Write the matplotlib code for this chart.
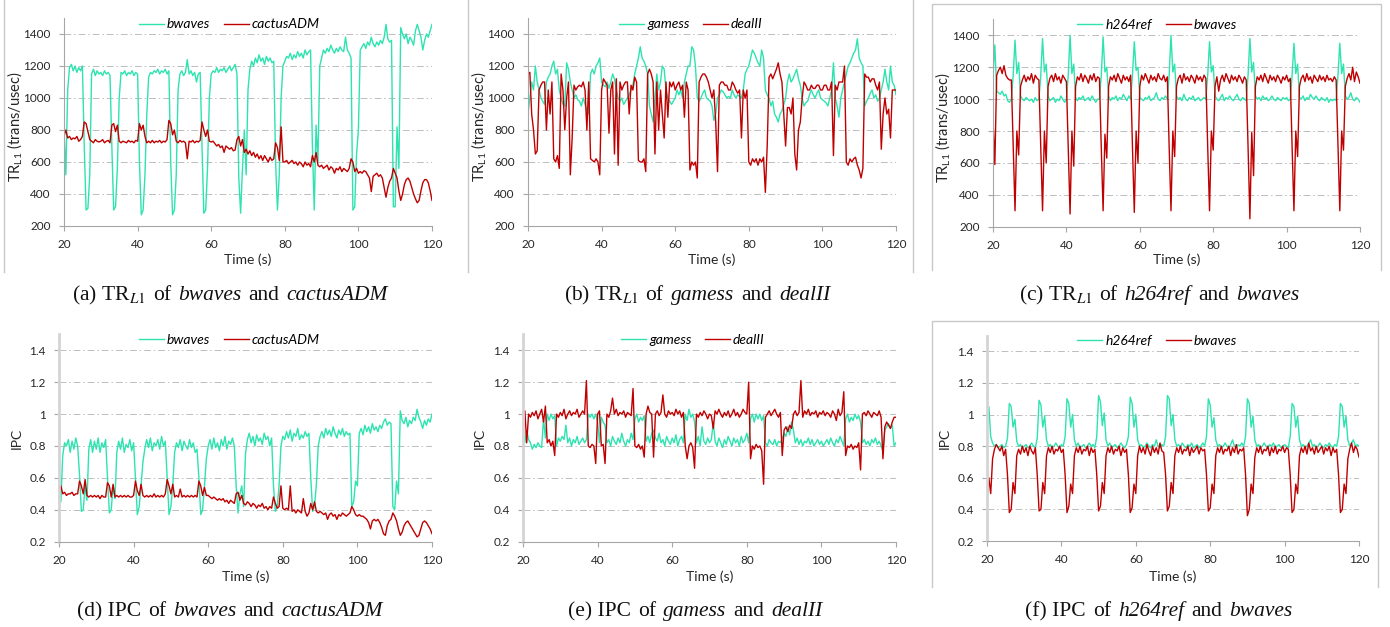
import numpy as np
import matplotlib
matplotlib.use("Agg")
import matplotlib.pyplot as plt
from matplotlib.lines import Line2D
from matplotlib.offsetbox import TextArea, HPacker, AnnotationBbox

plt.rcParams['font.family'] = ['Lato', 'DejaVu Sans']

# ---------------- data (sampled every 0.5 s from 20 s to 120 s) ----------------
time_s = np.linspace(20, 120, 201)

a_bwaves_tr = [
    800, 520, 1050, 1190, 1210, 1170, 1200, 1160, 1190, 1170, 1200, 700, 300, 310, 520, 1150, 1180, 1140, 1170, 1150,
    1160, 1140, 1170, 1150, 1160, 1140, 700, 300, 320, 560, 1000, 1160, 1150, 1170, 1140, 1160, 1150, 1170, 1140, 1160,
    1150, 600, 270, 300, 520, 900, 1130, 1160, 1150, 1170, 1160, 1180, 1150, 1170, 1160, 1180, 1150, 1170, 600, 270,
    300, 520, 1050, 1150, 1170, 1140, 1160, 1240, 1150, 1170, 1140, 1160, 1100, 1150, 1160, 700, 280, 300, 560, 1000,
    1150, 1170, 1160, 1190, 1160, 1180, 1170, 1190, 1160, 1180, 1200, 1170, 1190, 1210, 1150, 500, 280, 560, 800, 520,
    1050, 1180, 1230, 1200, 1250, 1220, 1270, 1230, 1250, 1210, 1260, 1230, 1250, 1220, 1230, 600, 300, 520, 1000, 1200,
    1230, 1260, 1250, 1280, 1240, 1270, 1250, 1290, 1260, 1280, 1250, 1300, 1270, 1290, 1300, 700, 300, 830, 600, 1200,
    1250, 1300, 1280, 1310, 1290, 1330, 1300, 1280, 1310, 1290, 1320, 1300, 1290, 1380, 1300, 1280, 1250, 300, 320, 650,
    800, 1300, 1320, 1340, 1310, 1350, 1330, 1380, 1340, 1320, 1350, 1330, 1360, 1340, 1380, 1460, 1370, 1350, 1360, 320,
    320, 820, 560, 1440, 1400, 1370, 1400, 1340, 1380, 1360, 1330, 1420, 1460, 1420, 1380, 1300, 1360, 1400, 1380, 1420,
    1460]

a_cactus_tr = [
    760, 800, 750, 760, 740, 750, 745, 760, 730, 740, 760, 850, 840, 790, 740, 730, 720, 740, 730, 725,
    730, 740, 720, 730, 735, 720, 830, 840, 790, 830, 730, 720, 730, 725, 720, 735, 725, 730, 720, 735,
    730, 840, 800, 830, 760, 720, 730, 720, 735, 720, 730, 725, 735, 720, 730, 725, 740, 860, 840, 770,
    800, 730, 720, 735, 725, 730, 720, 620, 730, 725, 735, 720, 730, 725, 735, 850, 800, 760, 800, 730,
    725, 730, 715, 700, 710, 690, 700, 660, 700, 690, 680, 690, 670, 675, 740, 760, 700, 740, 660, 680,
    650, 670, 640, 660, 630, 650, 620, 640, 610, 640, 620, 600, 630, 610, 620, 720, 690, 610, 820, 600,
    600, 610, 590, 600, 610, 590, 600, 580, 600, 590, 570, 600, 580, 590, 570, 640, 600, 660, 580, 570,
    580, 560, 570, 580, 550, 570, 560, 530, 560, 550, 570, 540, 560, 550, 540, 560, 620, 600, 540, 560,
    530, 540, 530, 545, 540, 520, 500, 415, 510, 520, 530, 510, 520, 500, 440, 380, 440, 480, 500, 560,
    530, 500, 420, 360, 400, 460, 490, 500, 480, 440, 400, 370, 345, 360, 420, 470, 490, 490, 470, 420,
    360]

b_gamess_tr = [
    900, 1000, 1100, 1050, 1200, 1100, 1050, 1000, 980, 960, 1100, 1130, 1150, 1200, 1230, 1150, 1180, 1050, 1000, 960,
    950, 1220, 1180, 1100, 1050, 1000, 1020, 990, 980, 950, 1000, 960, 920, 900, 1150, 1180, 1150, 1200, 1220, 1250,
    1100, 1080, 1070, 1100, 1060, 1100, 1150, 1120, 1050, 1000, 980, 1000, 960, 980, 1000, 1020, 1050, 1080, 1150, 1200,
    1250, 1320, 1250, 1230, 1200, 1150, 950, 900, 850, 1000, 1150, 1050, 1100, 1200, 1180, 1050, 1000, 980, 960, 980,
    1000, 1050, 1020, 1050, 1000, 1100, 1150, 1200, 1200, 1320, 1300, 1200, 1000, 980, 1000, 1030, 1050, 1000, 990, 980,
    950, 860, 900, 1000, 1020, 1050, 1040, 1020, 1000, 1010, 1000, 1050, 1020, 1000, 1020, 1010, 1000, 1050, 1150, 1180,
    1200, 1250, 1300, 1280, 1250, 1220, 1200, 1300, 1250, 1050, 1020, 1000, 950, 980, 900, 880, 850, 900, 920, 960,
    1000, 1100, 1150, 1100, 1120, 1150, 1180, 1120, 1080, 1000, 950, 970, 980, 1020, 1050, 1020, 1000, 1030, 1050, 1000,
    990, 980, 970, 950, 1000, 1050, 1220, 1000, 950, 880, 1000, 1050, 1100, 1150, 1200, 1220, 1250, 1280, 1300, 1370,
    1250, 1220, 1200, 950, 980, 1000, 1030, 1050, 1000, 1020, 980, 1000, 1050, 1100, 1180, 1100, 1050, 1200, 1100, 1080,
    1020]

b_dealii_tr = [
    1150, 1160, 900, 800, 650, 670, 1050, 1080, 1100, 1100, 800, 1050, 900, 1100, 620, 600, 640, 560, 1150, 1050,
    800, 1000, 1100, 520, 750, 1080, 1050, 1070, 1080, 1070, 1100, 1050, 800, 1100, 620, 610, 600, 620, 600, 520,
    1050, 1120, 1100, 1080, 780, 1050, 1100, 650, 1120, 580, 1100, 1050, 1080, 1100, 1100, 900, 1080, 1050, 1130, 1100,
    610, 600, 600, 620, 540, 1150, 1180, 1150, 1100, 650, 1100, 800, 1050, 900, 750, 1100, 880, 1100, 1070, 1100,
    1050, 1080, 1100, 1050, 1080, 880, 1100, 1050, 550, 600, 580, 600, 500, 1100, 1130, 1150, 1150, 1130, 1100, 1050,
    1000, 1050, 850, 540, 1080, 1100, 1100, 1080, 1080, 1050, 1050, 1100, 1080, 1050, 1030, 1050, 750, 1050, 1000, 1050,
    600, 580, 620, 600, 620, 580, 620, 600, 630, 410, 700, 1130, 1150, 1120, 1150, 1180, 1220, 1150, 1100, 900,
    700, 940, 940, 900, 1000, 650, 550, 800, 850, 1000, 1100, 1080, 1050, 1050, 1080, 1060, 1060, 1080, 1080, 1050,
    1050, 1080, 1080, 1050, 1050, 1100, 640, 1080, 1050, 1100, 1100, 1100, 1200, 600, 580, 620, 600, 620, 630, 580,
    550, 500, 560, 1150, 1130, 1130, 1100, 1120, 1120, 1080, 1050, 1100, 680, 900, 1000, 900, 930, 750, 1050, 1050,
    1050]

c_h264ref_tr = [
    1150, 1340, 1050, 1040, 1030, 1050, 1020, 1030, 990, 980, 1000, 1150, 1370, 1160, 1230, 1020, 1000, 990, 1010, 1000,
    990, 1000, 980, 1010, 990, 1000, 1140, 1380, 1170, 1220, 1020, 990, 1000, 1010, 980, 1000, 990, 1020, 1000, 980,
    1000, 1150, 1400, 1160, 1220, 1010, 990, 1010, 1000, 1020, 990, 1000, 1010, 990, 1020, 1000, 980, 1000, 1000, 1150,
    1390, 1170, 1200, 1020, 990, 1010, 1000, 1020, 990, 1010, 1000, 1030, 1010, 990, 1020, 1000, 1150, 1360, 1180, 1200,
    1010, 1000, 990, 1010, 1000, 1020, 990, 1000, 1010, 1040, 1000, 990, 1010, 1000, 1020, 1000, 1150, 1400, 1170, 1220,
    1020, 1000, 1010, 990, 1030, 1000, 990, 1010, 1000, 1020, 990, 1000, 1010, 990, 1000, 1010, 1000, 1150, 1360, 1170,
    1210, 1020, 1000, 990, 1010, 1030, 990, 1010, 1000, 1020, 1000, 990, 1010, 1030, 1000, 990, 1010, 1000, 990, 1150,
    1380, 1170, 1230, 1020, 1000, 1010, 990, 1020, 1000, 1010, 990, 1000, 1020, 1000, 990, 1010, 1000, 990, 1010, 1000,
    1010, 990, 1000, 1150, 1350, 1160, 1220, 1010, 1000, 1020, 990, 1010, 1000, 1030, 1010, 1000, 1020, 1000, 990, 1010,
    1000, 990, 1010, 980, 1000, 990, 1000, 990, 1150, 1350, 1160, 1220, 1020, 1000, 1010, 1040, 1000, 990, 1010, 1000,
    980]

c_bwaves_tr = [
    870, 590, 1150, 1180, 1200, 1160, 1210, 1150, 1130, 1120, 1120, 700, 300, 800, 650, 1080, 1120, 1150, 1110, 1140,
    1120, 1160, 1100, 1150, 1130, 1120, 700, 300, 800, 600, 1080, 1130, 1150, 1110, 1160, 1120, 1140, 1100, 1150, 1130,
    1110, 700, 280, 800, 580, 1080, 1140, 1120, 1160, 1110, 1150, 1130, 1100, 1150, 1120, 1160, 1110, 1140, 1130, 700,
    300, 780, 630, 1080, 1140, 1120, 1150, 1110, 1160, 1130, 1100, 1150, 1120, 1140, 1110, 1150, 700, 290, 800, 600,
    1080, 1150, 1120, 1160, 1130, 1100, 1150, 1120, 1140, 1110, 1160, 1130, 1120, 1150, 1110, 1140, 700, 300, 800, 640,
    1080, 1130, 1150, 1100, 1160, 1120, 1140, 1110, 1150, 1130, 1100, 1150, 1120, 1140, 1110, 1150, 1130, 700, 300, 800,
    680, 1080, 1140, 1050, 1120, 1150, 1110, 1160, 1130, 1100, 1150, 1120, 1140, 1110, 1150, 1130, 1100, 1140, 1120, 700,
    250, 790, 520, 1080, 1140, 1120, 1150, 1110, 1160, 1130, 1100, 1150, 1120, 1140, 1110, 1150, 1130, 1100, 1140, 1120,
    1150, 1110, 1130, 700, 300, 800, 640, 1080, 1130, 1150, 1110, 1160, 1120, 1140, 1100, 1150, 1130, 1110, 1150, 1120,
    1140, 1110, 1150, 1120, 1130, 1110, 1140, 1120, 700, 300, 800, 680, 1080, 1130, 1160, 1120, 1200, 1110, 1170, 1140,
    1100]

d_bwaves_ipc = [
    0.58, 0.45, 0.74, 0.82, 0.80, 0.84, 0.76, 0.83, 0.78, 0.85, 0.80, 0.62, 0.39, 0.40, 0.55, 0.46, 0.78, 0.84, 0.76, 0.83,
    0.78, 0.85, 0.76, 0.82, 0.79, 0.84, 0.60, 0.38, 0.40, 0.55, 0.47, 0.76, 0.83, 0.78, 0.85, 0.76, 0.81, 0.79, 0.84, 0.77,
    0.82, 0.60, 0.37, 0.42, 0.55, 0.70, 0.78, 0.84, 0.79, 0.85, 0.77, 0.82, 0.80, 0.84, 0.78, 0.86, 0.80, 0.83, 0.60, 0.37,
    0.42, 0.55, 0.76, 0.82, 0.79, 0.84, 0.77, 0.83, 0.80, 0.78, 0.84, 0.79, 0.82, 0.76, 0.78, 0.60, 0.37, 0.40, 0.55, 0.72,
    0.80, 0.84, 0.78, 0.85, 0.79, 0.82, 0.77, 0.84, 0.80, 0.86, 0.78, 0.83, 0.81, 0.85, 0.80, 0.55, 0.38, 0.50, 0.55, 0.42,
    0.75, 0.84, 0.88, 0.82, 0.86, 0.80, 0.87, 0.83, 0.85, 0.81, 0.88, 0.84, 0.86, 0.80, 0.85, 0.55, 0.39, 0.42, 0.55, 0.80,
    0.86, 0.84, 0.89, 0.85, 0.90, 0.83, 0.88, 0.86, 0.91, 0.84, 0.87, 0.85, 0.89, 0.86, 0.88, 0.60, 0.39, 0.42, 0.56, 0.80,
    0.86, 0.89, 0.85, 0.91, 0.87, 0.90, 0.86, 0.92, 0.88, 0.85, 0.90, 0.87, 0.91, 0.86, 0.89, 0.87, 0.88, 0.42, 0.45, 0.58,
    0.55, 0.88, 0.91, 0.87, 0.93, 0.89, 0.92, 0.88, 0.94, 0.90, 0.92, 0.89, 0.93, 0.91, 0.95, 0.97, 0.93, 0.95, 0.94, 0.42,
    0.40, 0.58, 0.50, 1.02, 0.96, 0.94, 0.98, 0.92, 0.96, 0.94, 0.98, 0.96, 1.03, 0.98, 0.95, 0.91, 0.96, 0.93, 0.97, 0.95,
    1.00]

d_cactus_ipc = [
    0.51, 0.55, 0.50, 0.51, 0.49, 0.50, 0.50, 0.51, 0.49, 0.50, 0.50, 0.58, 0.55, 0.50, 0.59, 0.49, 0.48, 0.49, 0.48, 0.49,
    0.48, 0.49, 0.47, 0.49, 0.48, 0.48, 0.57, 0.55, 0.48, 0.56, 0.48, 0.49, 0.48, 0.49, 0.48, 0.49, 0.48, 0.49, 0.48, 0.48,
    0.49, 0.58, 0.52, 0.49, 0.56, 0.49, 0.48, 0.49, 0.48, 0.49, 0.48, 0.50, 0.48, 0.49, 0.48, 0.49, 0.48, 0.50, 0.59, 0.55,
    0.50, 0.56, 0.48, 0.49, 0.48, 0.53, 0.48, 0.49, 0.48, 0.49, 0.48, 0.49, 0.48, 0.49, 0.48, 0.58, 0.55, 0.49, 0.54, 0.49,
    0.49, 0.48, 0.47, 0.48, 0.47, 0.46, 0.47, 0.46, 0.47, 0.45, 0.46, 0.44, 0.46, 0.45, 0.44, 0.50, 0.51, 0.46, 0.49, 0.44,
    0.43, 0.45, 0.44, 0.42, 0.44, 0.43, 0.41, 0.43, 0.42, 0.44, 0.41, 0.42, 0.40, 0.42, 0.41, 0.48, 0.44, 0.41, 0.42, 0.55,
    0.41, 0.40, 0.41, 0.40, 0.55, 0.39, 0.40, 0.38, 0.40, 0.39, 0.38, 0.47, 0.39, 0.36, 0.38, 0.44, 0.40, 0.45, 0.39, 0.38,
    0.39, 0.38, 0.37, 0.38, 0.34, 0.37, 0.38, 0.36, 0.37, 0.34, 0.37, 0.36, 0.38, 0.37, 0.36, 0.37, 0.38, 0.42, 0.40, 0.37,
    0.36, 0.37, 0.36, 0.36, 0.35, 0.34, 0.32, 0.28, 0.33, 0.34, 0.33, 0.34, 0.32, 0.29, 0.25, 0.24, 0.30, 0.33, 0.34, 0.38,
    0.36, 0.33, 0.28, 0.24, 0.26, 0.30, 0.32, 0.33, 0.31, 0.29, 0.27, 0.25, 0.23, 0.24, 0.28, 0.32, 0.33, 0.32, 0.30, 0.28,
    0.25]

e_gamess_ipc = [
    0.88, 0.82, 0.90, 0.84, 0.82, 0.78, 0.81, 0.79, 0.82, 0.80, 0.79, 0.97, 0.85, 1.00, 0.96, 1.00, 0.97, 0.99, 0.80, 0.85,
    0.83, 0.86, 0.84, 0.93, 0.82, 0.85, 0.80, 0.84, 0.82, 0.86, 0.81, 0.83, 0.85, 0.82, 0.84, 1.00, 0.98, 1.00, 0.97, 1.00,
    0.95, 0.82, 0.98, 0.95, 0.93, 0.82, 0.84, 0.80, 0.86, 0.83, 0.81, 0.85, 0.82, 0.88, 0.83, 0.80, 0.84, 0.82, 0.88, 0.84,
    0.97, 1.00, 0.95, 0.98, 0.96, 0.99, 0.83, 0.86, 0.82, 0.88, 0.90, 0.85, 0.83, 0.88, 0.82, 0.84, 0.80, 0.86, 0.83, 0.81,
    0.85, 0.82, 0.87, 0.80, 0.84, 0.86, 0.82, 1.00, 0.96, 1.03, 0.98, 1.00, 0.95, 0.82, 0.86, 0.80, 0.92, 0.83, 0.81, 0.85,
    0.82, 0.84, 0.95, 0.83, 0.80, 0.85, 0.82, 0.79, 0.84, 0.81, 0.86, 0.83, 0.80, 0.85, 0.82, 0.84, 0.80, 0.86, 0.82, 0.84,
    0.88, 0.82, 0.97, 1.00, 0.95, 1.00, 0.97, 1.00, 0.96, 0.99, 0.82, 0.80, 0.84, 0.82, 0.81, 0.84, 0.80, 0.83, 0.82, 0.85,
    0.88, 0.86, 0.92, 0.87, 0.95, 0.90, 0.82, 0.85, 0.81, 0.84, 0.80, 0.83, 0.82, 0.85, 0.81, 0.84, 0.80, 0.82, 0.84, 0.81,
    0.83, 0.80, 0.82, 0.84, 0.81, 0.85, 0.82, 0.80, 0.84, 0.82, 0.86, 0.83, 0.80, 0.97, 1.00, 0.95, 0.98, 0.96, 1.00, 0.97,
    0.99, 0.95, 0.82, 0.84, 0.81, 0.83, 0.80, 0.84, 0.82, 0.85, 0.81, 0.83, 0.80, 0.77, 0.90, 0.92, 0.94, 0.91, 0.93, 0.80,
    0.82]

e_dealii_ipc = [
    1.00, 1.02, 0.82, 1.00, 0.98, 1.01, 0.99, 1.02, 0.97, 1.00, 1.03, 0.95, 1.05, 0.82, 0.84, 0.80, 0.83, 0.74, 1.00, 0.98,
    1.01, 0.99, 1.03, 0.97, 1.00, 1.02, 0.99, 1.01, 1.00, 1.03, 0.98, 1.00, 1.02, 1.00, 1.21, 0.80, 0.79, 0.81, 0.80, 0.69,
    1.00, 1.02, 0.80, 0.81, 0.69, 1.00, 0.98, 1.02, 1.10, 1.00, 1.03, 0.99, 1.01, 1.00, 1.02, 0.98, 1.01, 1.00, 0.99, 1.16,
    0.80, 0.79, 0.81, 0.78, 0.80, 0.73, 1.00, 1.05, 1.01, 1.00, 0.73, 1.00, 1.02, 0.99, 1.01, 1.12, 1.00, 0.98, 1.02, 1.00,
    1.01, 0.99, 1.03, 1.00, 1.02, 0.98, 1.01, 0.80, 0.72, 0.80, 0.82, 0.79, 0.66, 1.00, 0.98, 1.01, 0.99, 1.02, 1.00, 0.97,
    1.00, 0.99, 0.91, 1.02, 1.00, 1.03, 1.00, 0.98, 1.01, 0.99, 1.02, 0.98, 1.00, 1.03, 0.99, 1.01, 0.98, 1.00, 1.03, 1.01,
    1.00, 1.20, 0.72, 0.80, 0.78, 0.81, 0.79, 0.80, 0.77, 0.56, 0.98, 1.00, 1.02, 0.99, 1.01, 1.03, 1.00, 0.98, 1.01, 0.74,
    0.90, 0.92, 0.89, 0.93, 0.91, 1.00, 1.02, 0.99, 1.01, 1.21, 0.98, 1.02, 1.00, 1.03, 0.99, 1.01, 1.00, 1.02, 0.98, 1.01,
    1.00, 1.02, 0.99, 1.01, 1.00, 0.98, 1.02, 1.00, 0.96, 1.03, 0.99, 1.01, 1.14, 0.74, 0.80, 0.79, 0.81, 0.78, 0.80, 0.79,
    0.82, 0.65, 1.00, 1.01, 0.99, 1.02, 1.00, 0.98, 1.01, 1.00, 0.99, 1.02, 0.98, 0.72, 0.92, 0.95, 0.93, 0.91, 0.95, 0.98,
    0.98]

f_h264ref_ipc = [
    0.95, 1.05, 0.86, 0.82, 0.80, 0.81, 0.79, 0.80, 0.81, 0.79, 0.80, 0.85, 1.07, 1.05, 0.92, 0.97, 0.83, 0.80, 0.81, 0.79,
    0.80, 0.81, 0.79, 0.80, 0.82, 0.80, 0.79, 0.85, 1.09, 1.06, 0.92, 0.99, 0.84, 0.80, 0.81, 0.79, 0.80, 0.82, 0.80, 0.79,
    0.81, 0.80, 0.86, 1.10, 1.07, 0.92, 1.00, 0.84, 0.80, 0.82, 0.79, 0.80, 0.81, 0.79, 0.80, 0.82, 0.80, 0.81, 0.79, 0.86,
    1.12, 1.08, 0.93, 1.01, 0.84, 0.80, 0.82, 0.79, 0.80, 0.81, 0.79, 0.80, 0.82, 0.80, 0.79, 0.81, 0.86, 1.11, 1.07, 0.92,
    1.00, 0.84, 0.80, 0.81, 0.79, 0.80, 0.82, 0.80, 0.79, 0.81, 0.80, 0.84, 0.80, 0.79, 0.81, 0.80, 0.86, 1.12, 1.10, 0.93,
    1.00, 0.84, 0.80, 0.81, 0.79, 0.82, 0.80, 0.79, 0.81, 0.80, 0.82, 0.79, 0.80, 0.81, 0.79, 0.80, 0.82, 0.80, 0.86, 1.10,
    1.06, 0.92, 0.98, 0.84, 0.80, 0.81, 0.79, 0.80, 0.82, 0.80, 0.79, 0.81, 0.84, 0.80, 0.79, 0.81, 0.80, 0.82, 0.80, 0.86,
    1.10, 1.07, 0.92, 0.99, 0.84, 0.80, 0.81, 0.79, 0.80, 0.82, 0.80, 0.79, 0.81, 0.80, 0.82, 0.79, 0.80, 0.81, 0.79, 0.80,
    0.81, 0.80, 0.79, 0.86, 1.07, 1.05, 0.92, 0.99, 0.84, 0.80, 0.81, 0.79, 0.80, 0.82, 0.84, 0.80, 0.81, 0.79, 0.80, 0.82,
    0.80, 0.79, 0.81, 0.80, 0.82, 0.80, 0.79, 0.81, 0.80, 0.86, 1.07, 1.05, 0.92, 0.99, 0.84, 0.80, 0.82, 0.84, 0.80, 0.81,
    0.80]

f_bwaves_ipc = [
    0.45, 0.60, 0.50, 0.72, 0.78, 0.81, 0.79, 0.77, 0.80, 0.74, 0.78, 0.62, 0.38, 0.40, 0.57, 0.50, 0.74, 0.78, 0.75, 0.80,
    0.76, 0.79, 0.74, 0.80, 0.77, 0.75, 0.79, 0.62, 0.39, 0.40, 0.57, 0.50, 0.74, 0.79, 0.76, 0.80, 0.75, 0.78, 0.77, 0.80,
    0.76, 0.78, 0.62, 0.38, 0.42, 0.56, 0.50, 0.74, 0.79, 0.76, 0.80, 0.75, 0.78, 0.77, 0.80, 0.74, 0.79, 0.76, 0.78, 0.62,
    0.39, 0.42, 0.57, 0.50, 0.74, 0.79, 0.76, 0.80, 0.75, 0.78, 0.77, 0.80, 0.74, 0.79, 0.76, 0.78, 0.62, 0.38, 0.41, 0.56,
    0.50, 0.74, 0.80, 0.76, 0.79, 0.75, 0.81, 0.77, 0.74, 0.80, 0.76, 0.79, 0.75, 0.82, 0.77, 0.76, 0.62, 0.39, 0.42, 0.57,
    0.50, 0.74, 0.79, 0.76, 0.80, 0.75, 0.78, 0.77, 0.80, 0.74, 0.79, 0.76, 0.78, 0.80, 0.75, 0.79, 0.77, 0.78, 0.62, 0.39,
    0.41, 0.56, 0.50, 0.74, 0.79, 0.76, 0.80, 0.75, 0.78, 0.77, 0.80, 0.74, 0.79, 0.76, 0.81, 0.75, 0.78, 0.77, 0.79, 0.62,
    0.36, 0.40, 0.56, 0.50, 0.73, 0.79, 0.76, 0.80, 0.75, 0.78, 0.77, 0.80, 0.74, 0.79, 0.76, 0.80, 0.75, 0.78, 0.77, 0.80,
    0.76, 0.79, 0.78, 0.62, 0.38, 0.40, 0.56, 0.50, 0.74, 0.79, 0.76, 0.80, 0.75, 0.82, 0.77, 0.79, 0.75, 0.80, 0.76, 0.78,
    0.80, 0.75, 0.79, 0.77, 0.80, 0.74, 0.79, 0.76, 0.78, 0.62, 0.38, 0.40, 0.56, 0.50, 0.72, 0.78, 0.82, 0.76, 0.80, 0.78,
    0.73]

tr_ticks = [200, 400, 600, 800, 1000, 1200, 1400]
tr_tick_labels = ['200', '400', '600', '800', '1000', '1200', '1400']
ipc_ticks = [0.2, 0.4, 0.6, 0.8, 1.0, 1.2, 1.4]
ipc_tick_labels = ['0.2', '0.4', '0.6', '0.8', '1', '1.2', '1.4']
time_ticks = [20, 40, 60, 80, 100, 120]

panels = [
    dict(box=(64, 432, 18, 226), names=('bwaves', 'cactusADM'), data=(a_bwaves_tr, a_cactus_tr), kind='tr',
         leg=(229, 24.5), ylab_x=15, ylab_y=127, xlab_y=260, cap=(230, 295),
         caption=[("(a) TR$_{L1}$", 'normal'), ("of", 'normal'), ("bwaves", 'italic'), ("and", 'normal'),
                  ("cactusADM", 'italic')]),
    dict(box=(528, 896, 18, 226), names=('gamess', 'dealII'), data=(b_gamess_tr, b_dealii_tr), kind='tr',
         leg=(691, 24.5), ylab_x=479, ylab_y=127, xlab_y=260, cap=(697, 295),
         caption=[("(b) TR$_{L1}$", 'normal'), ("of", 'normal'), ("gamess", 'italic'), ("and", 'normal'),
                  ("dealII", 'italic')]),
    dict(box=(993, 1360, 19.4, 226.7), names=('h264ref', 'bwaves'), data=(c_h264ref_tr, c_bwaves_tr), kind='tr',
         leg=(1157, 25), ylab_x=943, ylab_y=128, xlab_y=260, cap=(1159, 295),
         caption=[("(c) TR$_{L1}$", 'normal'), ("of", 'normal'), ("h264ref", 'italic'), ("and", 'normal'),
                  ("bwaves", 'italic')]),
    dict(box=(59, 432, 334.3, 541.7), names=('bwaves', 'cactusADM'), data=(d_bwaves_ipc, d_cactus_ipc), kind='ipc',
         leg=(229, 340), ylab_x=17, ylab_y=438, xlab_y=577, cap=(230, 611.5),
         caption=[("(d) IPC", 'normal'), ("of", 'normal'), ("bwaves", 'italic'), ("and", 'normal'),
                  ("cactusADM", 'italic')]),
    dict(box=(523, 896, 334.3, 541.7), names=('gamess', 'dealII'), data=(e_gamess_ipc, e_dealii_ipc), kind='ipc',
         leg=(693, 340), ylab_x=480, ylab_y=438, xlab_y=577, cap=(695, 611.5),
         caption=[("(e) IPC", 'normal'), ("of", 'normal'), ("gamess", 'italic'), ("and", 'normal'),
                  ("dealII", 'italic')]),
    dict(box=(987, 1359, 335.5, 541), names=('h264ref', 'bwaves'), data=(f_h264ref_ipc, f_bwaves_ipc), kind='ipc',
         leg=(1157, 341), ylab_x=945, ylab_y=438, xlab_y=577, cap=(1159, 611.5),
         caption=[("(f) IPC", 'normal'), ("of", 'normal'), ("h264ref", 'italic'), ("and", 'normal'),
                  ("bwaves", 'italic')]),
]

CYAN = '#2de3b0'
RED = '#c00000'
GRID = '#bdbdbd'
AXIS = '#a6a6a6'
TEXT = '#262626'
CAP_SIZE = 15.5

W, H = 1390, 627
fig = plt.figure(figsize=(W / 100, H / 100), dpi=100)
fig.patch.set_facecolor('white')


def fx(x):
    return x / W


def fy(y):
    return 1 - y / H


for p in panels:
    xl, xr, yt, yb = p['box']
    ax = fig.add_axes([fx(xl), fy(yb), (xr - xl) / W, (yb - yt) / H])
    s1, s2 = p['data']
    assert len(s1) == len(time_s) and len(s2) == len(time_s)
    l1, = ax.plot(time_s, s1, color=CYAN, lw=1.0, solid_joinstyle='round')
    l2, = ax.plot(time_s, s2, color=RED, lw=1.0, solid_joinstyle='round')
    ax.set_xlim(20, 120)
    if p['kind'] == 'tr':
        ax.set_ylim(200, 1500)
        ax.set_yticks(tr_ticks)
        ax.set_yticklabels(tr_tick_labels)
        ax.set_ylabel(r"TR$_{\mathregular{L1}}$ (trans/usec)", fontsize=10.5, color=TEXT)
        ax.spines['left'].set_color(AXIS)
        ax.spines['left'].set_linewidth(0.8)
    else:
        ax.set_ylim(0.2, 1.5)
        ax.set_yticks(ipc_ticks)
        ax.set_yticklabels(ipc_tick_labels)
        ax.set_ylabel("IPC", fontsize=10, color=TEXT)
        ax.spines['left'].set_color('#d4d4d4')
        ax.spines['left'].set_linewidth(2.0)
    ax.set_xticks(time_ticks)
    ax.set_xlabel("Time (s)", fontsize=10, color=TEXT)
    ax.yaxis.set_label_coords(fx(p['ylab_x']), fy(p['ylab_y']), transform=fig.transFigure)
    ax.xaxis.set_label_coords(fx((xl + xr) / 2), fy(p['xlab_y']), transform=fig.transFigure)
    ax.yaxis.label.set_va('center')
    ax.xaxis.label.set_va('center')
    for side in ('top', 'right'):
        ax.spines[side].set_visible(False)
    ax.spines['bottom'].set_color(AXIS)
    ax.spines['bottom'].set_linewidth(0.8)
    ax.tick_params(axis='both', direction='out', length=3.5, width=0.8, color=AXIS,
                   labelsize=8.5, labelcolor=TEXT, pad=6)
    ax.grid(axis='y', color=GRID, lw=0.7, linestyle=(0, (7, 3, 1.5, 3)))
    ax.set_axisbelow(True)
    ax.set_facecolor('none')
    ax.legend(handles=[l1, l2], labels=list(p['names']), loc='center',
              bbox_to_anchor=(fx(p['leg'][0]), fy(p['leg'][1])), bbox_transform=fig.transFigure,
              ncol=2, frameon=False, prop={'style': 'italic', 'size': 10},
              handlelength=1.8, handletextpad=0.2, columnspacing=1.0, borderpad=0, borderaxespad=0)

    # caption under each panel (Times-like serif, italic benchmark names)
    areas = [TextArea(txt, textprops=dict(fontfamily='Liberation Serif', fontstyle=st, fontsize=CAP_SIZE,
                                          math_fontfamily='stix', color='#111111'))
             for txt, st in p['caption']]
    packer = HPacker(children=areas, align='baseline', pad=0, sep=CAP_SIZE * 0.33)
    ab = AnnotationBbox(packer, (fx(p['cap'][0]), fy(p['cap'][1])), xycoords='figure fraction',
                        frameon=False, box_alignment=(0.5, 0.5), pad=0)
    fig.add_artist(ab)

# chart frame borders of the source figure
border_kw = dict(color='#c8c8c8', lw=1.0, transform=fig.transFigure)
for x in (4, 468, 913):
    fig.add_artist(Line2D([fx(x), fx(x)], [fy(0), fy(272)], **border_kw))
fig.add_artist(Line2D([fx(932), fx(932), fx(1381), fx(1381)], [fy(270), fy(4), fy(4), fy(270)], **border_kw))
fig.add_artist(Line2D([fx(932), fx(932), fx(1378), fx(1378)], [fy(587), fy(321), fy(321), fy(587)], **border_kw))

fig.savefig("out.png", dpi=100, facecolor='white')
